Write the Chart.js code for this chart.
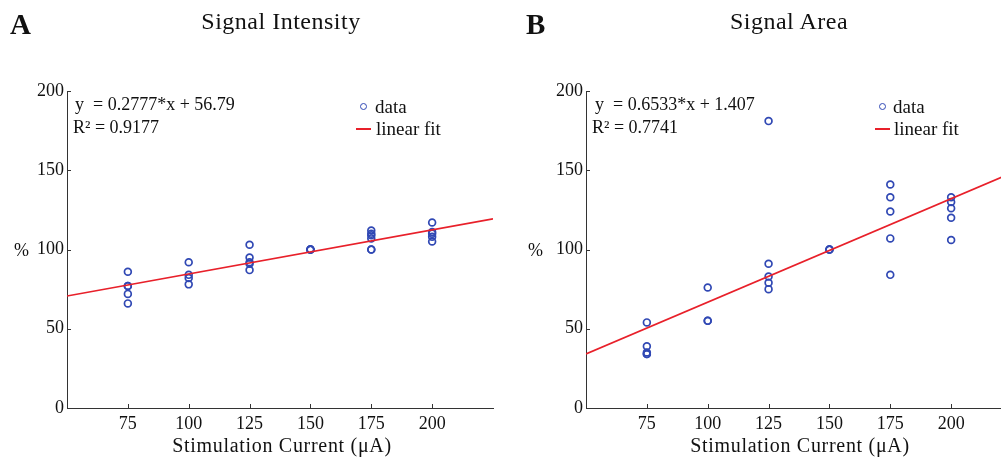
<!DOCTYPE html>
<html>
<head>
<meta charset="utf-8">
<script src="https://cdn.jsdelivr.net/npm/chart.js@4/dist/chart.umd.min.js"></script>
<style>
  html, body { margin: 0; padding: 0; width: 1001px; height: 460px; overflow: hidden; background: #fff; }
  #wrap { position: relative; width: 1001px; height: 460px; overflow: hidden; font-family: "Liberation Serif", serif; color: #111; }
  canvas { position: absolute; top: 0; }
  .txt { position: absolute; white-space: nowrap; line-height: 1; }
  .letter { font-size: 29px; font-weight: bold; }
  .title { font-size: 24px; letter-spacing: 0.5px; transform: translateX(-50%); }
  .eq { font-size: 18px; }
  .leg { font-size: 19px; }
  .xlab { font-size: 20px; letter-spacing: 0.7px; transform: translateX(-50%); }
  .mark { position: absolute; width: 5px; height: 5px; border: 1.7px solid #3048b4; border-radius: 50%; }
  .fitmark { position: absolute; height: 1.6px; background: #e8202a; }
</style>
</head>
<body>
<div id="wrap">
  <canvas id="chartA" width="510" height="460" style="left:0px"></canvas>
  <canvas id="chartB" width="511" height="460" style="left:518px"></canvas>

  <!-- panel A texts -->
  <div class="txt letter" style="left:10px; top:10px">A</div>
  <div class="txt title" style="left:281px; top:9px">Signal Intensity</div>
  <div class="txt eq" style="left:75px; top:95px">y&nbsp; = 0.2777*x + 56.79</div>
  <div class="txt eq" style="left:73px; top:118px">R² = 0.9177</div>
  <div class="mark" style="left:360px; top:103px"></div>
  <div class="txt leg" style="left:375px; top:97px">data</div>
  <div class="fitmark" style="left:356px; top:128px; width:15px"></div>
  <div class="txt leg" style="left:376px; top:119px">linear fit</div>
  <div class="txt eq" style="left:14px; top:241px">%</div>
  <div class="txt xlab" style="left:282px; top:435px">Stimulation Current (μA)</div>

  <!-- panel B texts -->
  <div class="txt letter" style="left:526px; top:10px">B</div>
  <div class="txt title" style="left:789px; top:9px">Signal Area</div>
  <div class="txt eq" style="left:595px; top:95px">y&nbsp; = 0.6533*x + 1.407</div>
  <div class="txt eq" style="left:592px; top:118px">R² = 0.7741</div>
  <div class="mark" style="left:879px; top:103px"></div>
  <div class="txt leg" style="left:893px; top:97px">data</div>
  <div class="fitmark" style="left:875px; top:128px; width:15px"></div>
  <div class="txt leg" style="left:894px; top:119px">linear fit</div>
  <div class="txt eq" style="left:528px; top:241px">%</div>
  <div class="txt xlab" style="left:800px; top:435px">Stimulation Current (μA)</div>
</div>

<script>
// stimulation currents (μA)
const currents = [75, 100, 125, 150, 175, 200];
const xTicks = [75, 100, 125, 150, 175, 200];
const yTicks = [0, 50, 100, 150, 200];

// panel A: signal intensity (%), one list per current
const intensityValues = [
  [86, 77, 77, 72, 66],
  [92, 84, 82, 78],
  [103, 95, 92, 91, 87],
  [100, 100, 100, 100],
  [112, 110, 109, 107, 100, 100],
  [117, 111, 110, 108, 105]
];
const intensityFitX = [50, 225];
const intensityFitY = [70.7, 119.3];

// panel B: signal area (%)
const areaValues = [
  [54, 39, 35, 34, 34],
  [76, 55, 55],
  [181, 91, 83, 79, 75],
  [100, 100, 100],
  [141, 133, 124, 107, 84],
  [133, 130, 126, 120, 106]
];
const areaFitX = [50, 225];
const areaFitY = [34.1, 148.4];

const axisColor = '#333';
const textColor = '#111';
const dataColor = '#3048b4';
const fitColor = '#e8202a';

function toPoints(values) {
    return currents.flatMap((c, i) => values[i].map(v => ({ x: c, y: v })));
}

function toLine(xs, ys) {
    return xs.map((x, i) => ({ x: x, y: ys[i] }));
}

// MATLAB style ticks pointing into the plot
const inwardTicks = {
    id: 'inwardTicks',
    afterDraw(chart) {
        const { ctx, chartArea, scales } = chart;
        ctx.save();
        ctx.strokeStyle = axisColor;
        ctx.lineWidth = 1;
        scales.x.ticks.forEach(t => {
            const px = Math.round(scales.x.getPixelForValue(t.value)) + 0.5;
            ctx.beginPath();
            ctx.moveTo(px, chartArea.bottom);
            ctx.lineTo(px, chartArea.bottom - 4);
            ctx.stroke();
        });
        scales.y.ticks.forEach(t => {
            const py = Math.round(scales.y.getPixelForValue(t.value)) + 0.5;
            ctx.beginPath();
            ctx.moveTo(chartArea.left, py);
            ctx.lineTo(chartArea.left + 4, py);
            ctx.stroke();
        });
        ctx.restore();
    }
};

function crearPanel(id, points, fit, yAxisWidth) {
    const ctx = document.getElementById(id).getContext('2d');
    return new Chart(ctx, {
        type: 'scatter',
        data: {
            datasets: [
                {
                    label: 'linear fit',
                    data: fit,
                    showLine: true,
                    borderColor: fitColor,
                    borderWidth: 1.6,
                    pointRadius: 0
                },
                {
                    label: 'data',
                    data: points,
                    pointStyle: 'circle',
                    pointRadius: 3.4,
                    pointBorderWidth: 1.7,
                    borderColor: dataColor,
                    backgroundColor: 'rgba(0,0,0,0)'
                }
            ]
        },
        options: {
            responsive: false,
            animation: false,
            layout: { padding: { top: 91, right: 17, bottom: 0, left: 0 } },
            plugins: {
                legend: { display: false },
                tooltip: { enabled: false }
            },
            scales: {
                x: {
                    type: 'linear',
                    min: 50,
                    max: 225,
                    afterBuildTicks: scale => { scale.ticks = xTicks.map(v => ({ value: v })); },
                    afterFit: scale => { scale.height = 52; },
                    grid: { display: false, drawTicks: false },
                    border: { color: axisColor, width: 1 },
                    ticks: {
                        color: textColor,
                        padding: 5,
                        maxRotation: 0,
                        autoSkip: false,
                        font: { family: 'Liberation Serif', size: 18 }
                    }
                },
                y: {
                    type: 'linear',
                    min: 0,
                    max: 200,
                    afterBuildTicks: scale => { scale.ticks = yTicks.map(v => ({ value: v })); },
                    afterFit: scale => { scale.width = yAxisWidth; },
                    grid: { display: false, drawTicks: false },
                    border: { color: axisColor, width: 1 },
                    ticks: {
                        color: textColor,
                        padding: 3,
                        font: { family: 'Liberation Serif', size: 18 }
                    }
                }
            }
        },
        plugins: [inwardTicks]
    });
}

crearPanel('chartA', toPoints(intensityValues), toLine(intensityFitX, intensityFitY), 67);
crearPanel('chartB', toPoints(areaValues), toLine(areaFitX, areaFitY), 68);
</script>
</body>
</html>
